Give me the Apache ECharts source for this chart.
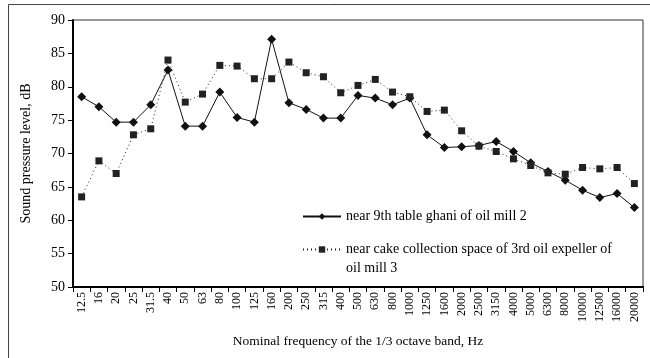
<!DOCTYPE html>
<html>
<head>
<meta charset="utf-8">
<script src="https://cdn.jsdelivr.net/npm/echarts@6/dist/echarts.min.js"></script>
<style>
  html, body { margin: 0; padding: 0; background: #fff; }
  #chart { width: 650px; height: 358px; }
</style>
</head>
<body>
<div id="chart"></div>
<script>
var frequencies = ['12.5', '16', '20', '25', '31.5', '40', '50', '63', '80', '100', '125', '160',
  '200', '250', '315', '400', '500', '630', '800', '1000', '1250', '1600', '2000', '2500',
  '3150', '4000', '5000', '6300', '8000', '10000', '12500', '16000', '20000'];

// near 9th table ghani of oil mill 2
var ghaniLevels = [78.5, 77.0, 74.7, 74.7, 77.3, 82.5, 74.1, 74.1, 79.2, 75.4, 74.7, 87.1,
  77.6, 76.6, 75.3, 75.3, 78.7, 78.3, 77.3, 78.3, 72.8, 70.9, 71.0, 71.2,
  71.8, 70.3, 68.6, 67.3, 66.0, 64.5, 63.4, 64.0, 61.9];

// near cake collection space of 3rd oil expeller of oil mill 3
var expellerLevels = [63.5, 68.9, 67.0, 72.8, 73.7, 84.0, 77.7, 78.9, 83.2, 83.1, 81.2, 81.2,
  83.7, 82.1, 81.5, 79.1, 80.2, 81.1, 79.2, 78.5, 76.3, 76.5, 73.4, 71.1,
  70.3, 69.2, 68.2, 67.1, 66.9, 67.9, 67.7, 67.9, 65.5];

var seriesNames = ['near 9th table ghani of oil mill 2',
  'near cake collection space of 3rd oil expeller of\noil mill 3'];

var serif = 'Liberation Serif';
var chart = echarts.init(document.getElementById('chart'));

var option = {
  animation: false,
  textStyle: { fontFamily: serif, color: '#000' },
  graphic: [{
    type: 'rect',
    shape: { x: 8.5, y: 4.5, width: 700, height: 400 },
    style: { fill: 'none', stroke: '#444', lineWidth: 1 },
    silent: true
  }],
  grid: {
    left: 73,
    right: 7,
    top: 20,
    bottom: 71,
    show: true,
    borderColor: '#333',
    borderWidth: 1
  },
  legend: {
    orient: 'vertical',
    left: 302,
    top: 207,
    padding: 0,
    itemWidth: 38,
    itemHeight: 8,
    itemGap: -5,
    textStyle: { fontFamily: serif, fontSize: 14, color: '#000', lineHeight: 19 },
    // the wrapped name gets an empty first line so the icon lines up with its first text line
    formatter: function (name) {
      return name === seriesNames[1] ? '\n' + name : name;
    },
    data: seriesNames
  },
  xAxis: {
    type: 'category',
    data: frequencies,
    boundaryGap: true,
    name: 'Nominal frequency of the 1/3 octave band, Hz',
    nameLocation: 'middle',
    nameGap: 47,
    nameTextStyle: { fontFamily: serif, fontSize: 13.5, color: '#000' },
    axisLine: { lineStyle: { color: '#000', width: 2 } },
    axisTick: { show: true, inside: false, length: 5, lineStyle: { color: '#000', width: 1 } },
    axisLabel: { rotate: 90, fontFamily: serif, fontSize: 12, color: '#000', margin: 5, interval: 0 },
    splitLine: { show: false }
  },
  yAxis: {
    type: 'value',
    min: 50,
    max: 90,
    interval: 5,
    name: 'Sound pressure level, dB',
    nameLocation: 'middle',
    nameGap: 40,
    nameTextStyle: { fontFamily: serif, fontSize: 14, color: '#000' },
    axisLine: { show: true, lineStyle: { color: '#000', width: 2 } },
    axisTick: { show: true, inside: false, length: 5, lineStyle: { color: '#000', width: 1 } },
    axisLabel: { fontFamily: serif, fontSize: 14, color: '#000', margin: 8 },
    splitLine: { show: false }
  },
  series: [
    {
      name: seriesNames[0],
      type: 'line',
      data: ghaniLevels,
      symbol: 'diamond',
      symbolSize: 9,
      lineStyle: { color: '#111', width: 1, type: 'solid' },
      itemStyle: { color: '#111' }
    },
    {
      name: seriesNames[1],
      type: 'line',
      data: expellerLevels,
      symbol: 'rect',
      symbolSize: 7,
      lineStyle: { color: '#222', width: 1, type: [1, 3] },
      itemStyle: { color: '#222' }
    }
  ]
};

chart.setOption(option);
</script>
</body>
</html>
